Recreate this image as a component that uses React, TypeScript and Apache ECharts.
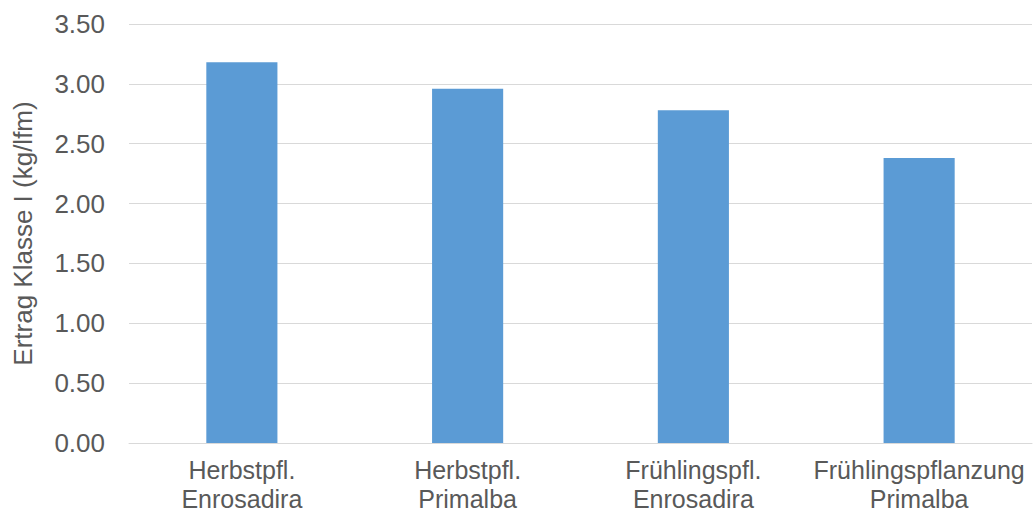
import React, { useEffect, useRef } from "react";
import * as echarts from "echarts";

const categories = [
  "Herbstpfl.\nEnrosadira",
  "Herbstpfl.\nPrimalba",
  "Frühlingspfl.\nEnrosadira",
  "Frühlingspflanzung\nPrimalba",
];
const yieldValues = [3.18, 2.96, 2.78, 2.38];
const yAxisTitle = "Ertrag Klasse I (kg/lfm)";

const TEXT = "#595959";
const GRID = "#d9d9d9";
const FONT = "'Liberation Sans', Arial, sans-serif";
const FONT_SIZE = 26;

export default function App() {
  const ref = useRef<HTMLDivElement>(null);

  useEffect(() => {
    document.body.style.margin = "0";
    const chart = echarts.init(ref.current!, null, { renderer: "svg" });
    chart.setOption({
      animation: false,
      backgroundColor: "#ffffff",
      grid: { left: 129, right: 4, top: 24, bottom: 72, containLabel: false },
      xAxis: {
        type: "category",
        data: categories,
        axisLine: { show: true, lineStyle: { color: GRID, width: 1 } },
        axisTick: { show: false },
        axisLabel: {
          color: TEXT,
          fontFamily: FONT,
          fontSize: 25,
          lineHeight: 29,
          margin: 12,
          interval: 0,
        },
      },
      yAxis: {
        type: "value",
        min: 0,
        max: 3.5,
        interval: 0.5,
        name: yAxisTitle,
        nameLocation: "middle",
        nameRotate: 90,
        nameGap: 93,
        nameTextStyle: { color: TEXT, fontFamily: FONT, fontSize: FONT_SIZE },
        axisLine: { show: false },
        axisTick: { show: false },
        splitLine: { lineStyle: { color: GRID, width: 1 } },
        axisLabel: {
          color: TEXT,
          fontFamily: FONT,
          fontSize: FONT_SIZE,
          margin: 24,
          formatter: (v: number) => v.toFixed(2),
        },
      },
      series: [
        {
          type: "bar",
          data: yieldValues,
          barWidth: "31.5%",
          itemStyle: { color: "#5b9bd5" },
        },
      ],
    });
    return () => chart.dispose();
  }, []);

  return <div ref={ref} style={{ width: 1036, height: 515 }} />;
}
